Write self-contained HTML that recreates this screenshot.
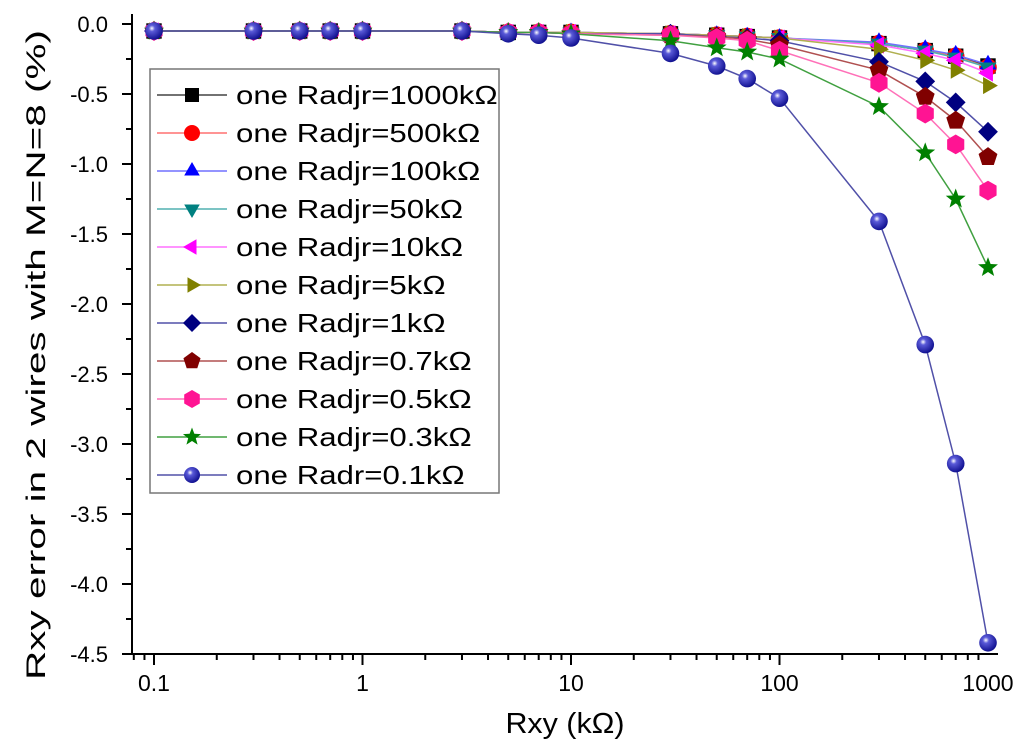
<!DOCTYPE html>
<html><head><meta charset="utf-8"><style>
html,body{margin:0;padding:0;background:#fff}
svg{display:block;font-family:"Liberation Sans",Arial,sans-serif}
</style></head><body>
<svg id="chart" width="1024" height="749" viewBox="0 0 1024 749" xmlns="http://www.w3.org/2000/svg">
<defs>
<radialGradient id="sph" cx="0.38" cy="0.35" r="0.7">
<stop offset="0" stop-color="#ffffff"/><stop offset="0.25" stop-color="#5a5ad8"/><stop offset="1" stop-color="#0a0a8a"/>
</radialGradient>
</defs>
<g id="axes"></g>
<g id="series"></g>
<g id="legend"></g>
</svg>
<script>
const xValues = [0.1,0.3,0.5,0.7,1,3,5,7,10,30,50,70,100,300,500,700,1000];
const s1000k = [-0.05,-0.05,-0.05,-0.05,-0.05,-0.05,-0.06,-0.06,-0.06,-0.07,-0.08,-0.09,-0.1,-0.14,-0.19,-0.23,-0.3];
const s500k  = [-0.05,-0.05,-0.05,-0.05,-0.05,-0.05,-0.06,-0.06,-0.06,-0.07,-0.08,-0.09,-0.1,-0.14,-0.19,-0.23,-0.31];
const s100k  = [-0.05,-0.05,-0.05,-0.05,-0.05,-0.05,-0.06,-0.06,-0.06,-0.07,-0.08,-0.09,-0.1,-0.13,-0.18,-0.22,-0.29];
const s50k   = [-0.05,-0.05,-0.05,-0.05,-0.05,-0.05,-0.06,-0.06,-0.06,-0.07,-0.08,-0.09,-0.1,-0.14,-0.19,-0.24,-0.31];
const s10k   = [-0.05,-0.05,-0.05,-0.05,-0.05,-0.05,-0.06,-0.06,-0.06,-0.07,-0.08,-0.09,-0.1,-0.15,-0.21,-0.26,-0.35];
const s5k    = [-0.05,-0.05,-0.05,-0.05,-0.05,-0.05,-0.06,-0.06,-0.06,-0.07,-0.08,-0.09,-0.1,-0.18,-0.26,-0.33,-0.44];
const s1k    = [-0.05,-0.05,-0.05,-0.05,-0.05,-0.05,-0.06,-0.06,-0.07,-0.07,-0.09,-0.1,-0.12,-0.27,-0.41,-0.56,-0.77];
const s07k   = [-0.05,-0.05,-0.05,-0.05,-0.05,-0.05,-0.06,-0.06,-0.07,-0.08,-0.09,-0.11,-0.15,-0.33,-0.52,-0.69,-0.95];
const s05k   = [-0.05,-0.05,-0.05,-0.05,-0.05,-0.05,-0.06,-0.06,-0.07,-0.08,-0.1,-0.12,-0.19,-0.42,-0.64,-0.86,-1.19];
const s03k   = [-0.05,-0.05,-0.05,-0.05,-0.05,-0.05,-0.06,-0.06,-0.07,-0.12,-0.17,-0.2,-0.25,-0.59,-0.92,-1.25,-1.74];
const s01k   = [-0.05,-0.05,-0.05,-0.05,-0.05,-0.05,-0.07,-0.08,-0.1,-0.21,-0.3,-0.39,-0.53,-1.41,-2.29,-3.14,-4.42];
const seriesNames = ["one Radjr=1000kΩ","one Radjr=500kΩ","one Radjr=100kΩ","one Radjr=50kΩ","one Radjr=10kΩ","one Radjr=5kΩ","one Radjr=1kΩ","one Radjr=0.7kΩ","one Radjr=0.5kΩ","one Radjr=0.3kΩ","one Radr=0.1kΩ"];
const yTicks = [0.0,-0.5,-1.0,-1.5,-2.0,-2.5,-3.0,-3.5,-4.0,-4.5];
const yTickLabels = ["0.0","-0.5","-1.0","-1.5","-2.0","-2.5","-3.0","-3.5","-4.0","-4.5"];
const xTicks = [0.1,1,10,100,1000];
const xTickLabels = ["0.1","1","10","100","1000"];

const allSeries=[s1000k,s500k,s100k,s50k,s10k,s5k,s1k,s07k,s05k,s03k,s01k];
const styles=[
 {m:'square',f:'#000',l:'#444'},
 {m:'circle',f:'#ff0000',l:'#ff7070'},
 {m:'up',f:'#0000ff',l:'#7070ff'},
 {m:'down',f:'#008080',l:'#50b0b0'},
 {m:'left',f:'#ff00ff',l:'#ff70ff'},
 {m:'right',f:'#808000',l:'#b0b050'},
 {m:'diamond',f:'#000080',l:'#5050a8'},
 {m:'pent',f:'#800000',l:'#b05050'},
 {m:'hex',f:'#ff1493',l:'#ff70b8'},
 {m:'star',f:'#008000',l:'#40a040'},
 {m:'sphere',f:'url(#sph)',l:'#5050a8'}];
const NS='http://www.w3.org/2000/svg';
const X0=132,X1=998,Y0=14,Y1=654;
function xs(v){return 154+(Math.log10(v)+1)*208.5;}
function ys(v){return 24+(-v)*140;}
function mk(tag,attrs,parent){const e=document.createElementNS(NS,tag);for(const k in attrs)e.setAttribute(k,attrs[k]);parent.appendChild(e);return e;}
const axes=document.getElementById('axes');
const ser=document.getElementById('series');
const leg=document.getElementById('legend');

let a=mk('line',{x1:X0,y1:Y0,x2:X0,y2:Y1,stroke:'#000','stroke-width':2},axes);


a=mk('line',{x1:X0,y1:Y1,x2:X1,y2:Y1,stroke:'#000','stroke-width':2},axes);


yTicks.forEach((v,i)=>{
 const y=ys(v);
 const t=mk('line',{x1:X0-10,y1:y,x2:X0,y2:y,stroke:'#000','stroke-width':2},axes);
 
 
 if(i<yTicks.length-1){const m=mk('line',{x1:X0-6,y1:y+35,x2:X0,y2:y+35,stroke:'#000','stroke-width':2},axes);
  
  }
 const tx=mk('text',{x:X0-24,y:y+8,'text-anchor':'end','font-size':22,fill:'#000'},axes);
 tx.textContent=yTickLabels[i];
 
 
});
for(let d=-2;d<=2;d++){for(let k=1;k<=9;k++){const v=k*Math.pow(10,d);const x=xs(v);if(x<X0||x>X1)continue;
 const major=(k===1);
 const t=mk('line',{x1:x,y1:Y1,x2:x,y2:Y1+(major?11:6),stroke:'#000','stroke-width':2},axes);
 
 }}
xTicks.forEach((v,i)=>{const tx=mk('text',{x:xs(v),y:Y1+37,'text-anchor':'middle','font-size':23,fill:'#000'},axes);
 tx.textContent=xTickLabels[i];
 
 });
let tt=mk('text',{x:0,y:0,'text-anchor':'middle','font-size':29,fill:'#000',transform:'translate(565,733) scale(1.05,1)'},axes);
tt.textContent='Rxy (kΩ)';


tt=mk('text',{x:0,y:0,'text-anchor':'middle','font-size':27,fill:'#000',transform:'translate(45,355) rotate(-90)',textLength:650,lengthAdjust:'spacingAndGlyphs'},axes);
tt.textContent='Rxy error in  2 wires with M=N=8 (%)';



function marker(type,fill,cx,cy,parent,s){
 s=s||1;let e;const r=8*s;
 if(type==='square')e=mk('rect',{x:cx-7*s,y:cy-7*s,width:14*s,height:14*s,fill},parent);
 else if(type==='circle'||type==='sphere')e=mk('circle',{cx,cy,r:r,fill},parent);
 else{let pts=[];
  const poly=(n,rot,rr)=>{for(let i=0;i<n;i++){const an=rot+i*2*Math.PI/n;pts.push([cx+rr*Math.cos(an),cy+rr*Math.sin(an)]);}};
  if(type==='up')poly(3,-Math.PI/2,9*s);
  else if(type==='down')poly(3,Math.PI/2,9*s);
  else if(type==='left')poly(3,Math.PI,9*s);
  else if(type==='right')poly(3,0,9*s);
  else if(type==='diamond')poly(4,-Math.PI/2,9*s);
  else if(type==='pent')poly(5,-Math.PI/2,9*s);
  else if(type==='hex')poly(6,-Math.PI/2,9*s);
  else if(type==='star'){for(let i=0;i<10;i++){const an=-Math.PI/2+i*Math.PI/5;const rr=(i%2?4:9.5)*s;pts.push([cx+rr*Math.cos(an),cy+rr*Math.sin(an)]);}}
  e=mk('polygon',{points:pts.map(p=>p.join(',')).join(' '),fill},parent);}
 return e;
}
allSeries.forEach((vals,si)=>{
 const st=styles[si];
 const g=mk('g',{},ser);
 
 
 const p=mk('polyline',{points:vals.map((v,i)=>xs(xValues[i])+','+ys(v)).join(' '),fill:'none',stroke:st.l,'stroke-width':1.5},g);
 
 
 vals.forEach((v,i)=>{const m=marker(st.m,st.f,xs(xValues[i]),ys(v),g,1.1);
  
  });
});
const box=mk('rect',{x:150,y:69,width:349,height:424,fill:'#fff',stroke:'#777','stroke-width':1.5},leg);


seriesNames.forEach((n,i)=>{
 const y=95+i*38;const st=styles[i];
 const g=mk('g',{},leg);
 
 
 mk('line',{x1:157,y1:y,x2:227,y2:y,stroke:st.l,'stroke-width':1.5},g);
 marker(st.m,st.f,192,y,g,1);
 const t=mk('text',{x:0,y:0,'font-size':26,fill:'#000',transform:'translate(236,'+(y+9)+') scale(1.2,1)'},g);
 t.textContent=n;
 
 
});
</script>
</body></html>
